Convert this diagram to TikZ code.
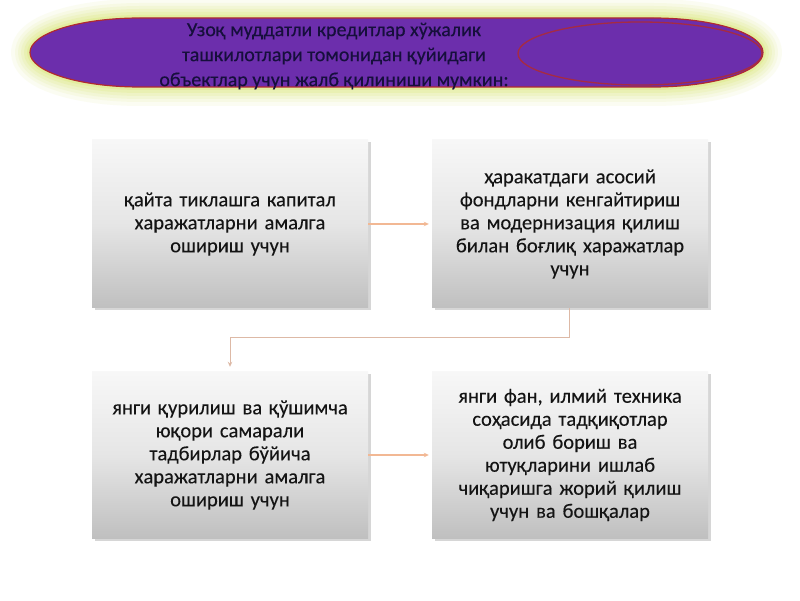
\documentclass[tikz,border=0pt]{standalone}
\usepackage{fontspec}
\setmainfont{Carlito}
\newfontfamily\boxfont{Carlito}[WordSpace=0.85, FakeBold=0.15]
\newfontfamily\titlefont{Carlito}[FakeBold=0.3]
\usetikzlibrary{arrows.meta,shadows,calc}
\definecolor{purp}{HTML}{6C2EAC}
\definecolor{rimred}{HTML}{B02A30}
\definecolor{glowc}{HTML}{DCEA80}
\definecolor{titletext}{HTML}{160F3C}
\definecolor{arrowc}{HTML}{F2B894}
\definecolor{connc}{HTML}{DDB9A6}
\begin{document}
\begin{tikzpicture}[x=1pt,y=1pt,
  box/.style={minimum width=276pt, minimum height=168pt, inner sep=0pt,
    top color=white!97!black, bottom color=white!75!black, middle color=white!90!black,
    align=center, text width=270pt, text=black!92,
    font=\boxfont\fontsize{20.5}{23}\selectfont,
    drop shadow={shadow xshift=2.5pt, shadow yshift=-2.5pt, fill=black, opacity=0.16}},
  link/.style={draw=arrowc, line width=1.2pt, -{Stealth[length=5pt,width=4.5pt]}},
  elbow/.style={draw=connc, line width=1pt, -{Stealth[length=5pt,width=4.5pt]}}]
\useasboundingbox (0,0) rectangle (800,600);
\fill[white] (0,0) rectangle (800,600);
% title banner
\path[save path=\outerp] (140,582) -- (653,582)
  arc[start angle=90,end angle=-90,x radius=110,y radius=34.5]
  -- (140,513)
  arc[start angle=270,end angle=90,x radius=110,y radius=34.5] -- cycle;
\foreach \w/\o in {38/0.10,30/0.12,24/0.15,18/0.18,12/0.25,6/0.4}{
  \draw[glowc, line width=\w pt, opacity=\o, line join=round, use path=\outerp];
}
\fill[purp, use path=\outerp];
\draw[rimred, line width=1.2pt, use path=\outerp];
\draw[rimred!85!purp, line width=1.3pt] (640,546.5) ellipse[x radius=122, y radius=31.5];
\node[text=titletext, align=center, font=\titlefont\fontsize{20}{25}\selectfont] (title) at (334,544)
  {Узоқ муддатли кредитлар хўжалик\\ташкилотлари томонидан қуйидаги\\объектлар учун жалб қилиниши мумкин:};
% boxes
\node[box] (b1) at (230,376) {қайта тиклашга капитал\\харажатларни амалга\\ошириш учун};
\node[box] (b2) at (570,376) {ҳаракатдаги асосий\\фондларни кенгайтириш\\ва модернизация қилиш\\билан боғлиқ харажатлар\\учун};
\node[box, minimum height=166pt] (b3) at (230,145) {янги қурилиш ва қўшимча\\юқори самарали\\тадбирлар бўйича\\харажатларни амалга\\ошириш учун};
\node[box, minimum height=166pt] (b4) at (570,145) {янги фан, илмий техника\\соҳасида тадқиқотлар\\олиб бориш ва\\ютуқларини ишлаб\\чиқаришга жорий қилиш\\учун ва бошқалар};
% connectors
\draw[link, shorten >=3pt] (b1.east) -- (b2.west);
\draw[link, shorten >=3pt] (b3.east) -- (b4.west);
\coordinate (k) at (569,262);
\draw[elbow, shorten >=5pt] (b2.south -| k) -- (k) -- (k -| b3.north) -- (b3.north);
\end{tikzpicture}
\end{document}
